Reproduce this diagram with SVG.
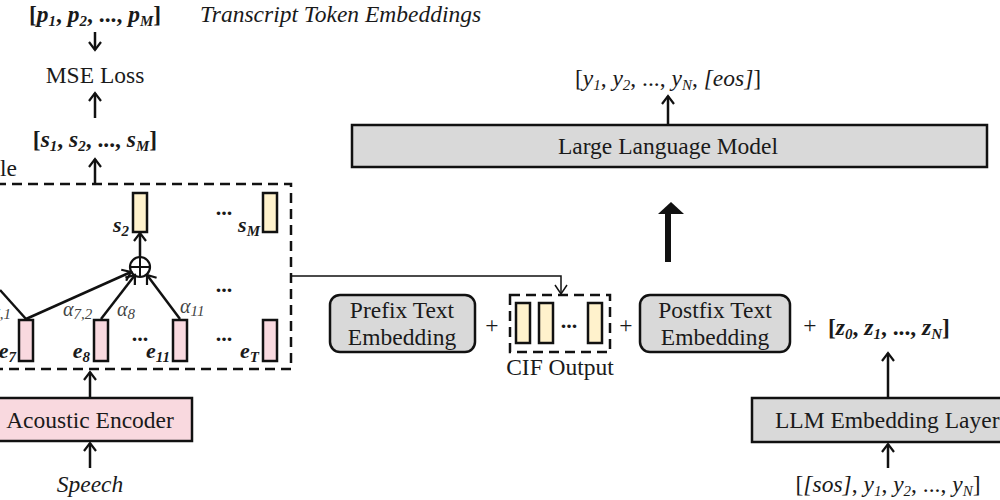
<svg xmlns="http://www.w3.org/2000/svg" width="1000" height="500" viewBox="0 0 1000 500">
<style>
.t{font-family:"Liberation Serif","Times New Roman",serif;font-size:23.5px;fill:#1a1a1a}
.m{font-family:"Liberation Serif","Times New Roman",serif;font-size:22px;fill:#1a1a1a}
.b{font-weight:bold}
.i{font-style:italic}
.s{font-size:15px}
.al{font-family:"Liberation Serif","Times New Roman",serif;font-size:20px;font-style:italic;fill:#444}
.box{stroke:#111;stroke-width:2.5}
.gray{fill:#d9d9d9}
.pink{fill:#f9d9df}
.yel{fill:#fff2cc}
.bar{stroke:#111;stroke-width:2.5}
.dash{fill:none;stroke:#111;stroke-width:2.5;stroke-dasharray:10 6}
.ln{fill:none;stroke:#111;stroke-width:2.5}
.thin{fill:none;stroke:#111;stroke-width:1.5}
</style>
<defs>
<marker id="arr" markerUnits="userSpaceOnUse" markerWidth="16" markerHeight="16" viewBox="0 0 16 16" refX="14" refY="8" orient="auto">
<path d="M6,2 L14,8 L6,14" fill="none" stroke="#111" stroke-width="2.2"/>
</marker>
<marker id="arrs" markerUnits="userSpaceOnUse" markerWidth="16" markerHeight="16" viewBox="0 0 16 16" refX="14" refY="8" orient="auto">
<path d="M5,2 L14,8 L5,14" fill="none" stroke="#111" stroke-width="1.5"/>
</marker>
</defs>

<!-- top-left labels -->
<g id="transcript-embeddings">
<text class="t b" x="95" y="22" text-anchor="middle">[<tspan class="i">p</tspan><tspan class="s i" dy="4">1</tspan><tspan dy="-4">, </tspan><tspan class="i">p</tspan><tspan class="s i" dy="4">2</tspan><tspan dy="-4">, ..., </tspan><tspan class="i">p</tspan><tspan class="s i" dy="4">M</tspan><tspan dy="-4">]</tspan></text>
<text class="t i" x="200" y="22">Transcript Token Embeddings</text>
</g>
<g id="mse-loss">
<text class="t" x="95" y="83" text-anchor="middle">MSE Loss</text>
</g>
<g id="s-seq">
<text class="t b" x="95" y="147" text-anchor="middle">[<tspan class="i">s</tspan><tspan class="s i" dy="4">1</tspan><tspan dy="-4">, </tspan><tspan class="i">s</tspan><tspan class="s i" dy="4">2</tspan><tspan dy="-4">, ..., </tspan><tspan class="i">s</tspan><tspan class="s i" dy="4">M</tspan><tspan dy="-4">]</tspan></text>
</g>

<!-- CIF module -->
<g id="cif-module">
<text class="t" x="0" y="176">le</text>
<rect class="dash" x="-20" y="184" width="311" height="185"/>
<rect class="bar yel" x="133" y="193" width="14" height="39"/>
<rect class="bar yel" x="263" y="193" width="14" height="39"/>
<rect class="bar pink" x="19" y="320" width="14" height="41"/>
<rect class="bar pink" x="94" y="320" width="14" height="41"/>
<rect class="bar pink" x="173" y="320" width="14" height="41"/>
<rect class="bar pink" x="263" y="320" width="14" height="41"/>
<circle cx="140" cy="267" r="10" fill="#fff" stroke="#111" stroke-width="2.2"/>
<path d="M130,267 H150 M140,257 V277" stroke="#111" stroke-width="2"/>
<text class="m b i" x="129" y="232" text-anchor="end">s<tspan class="s" dy="4">2</tspan></text>
<text class="m b i" x="260" y="232" text-anchor="end">s<tspan class="s" dy="4">M</tspan></text>
<text class="m b i" x="16" y="358" text-anchor="end">e<tspan class="s" dy="4">7</tspan></text>
<text class="m b i" x="90" y="358" text-anchor="end">e<tspan class="s" dy="4">8</tspan></text>
<text class="m b i" x="170" y="358" text-anchor="end">e<tspan class="s" dy="4">11</tspan></text>
<text class="m b i" x="259" y="358" text-anchor="end">e<tspan class="s" dy="4">T</tspan></text>
<text class="al" x="11" y="316" text-anchor="end">α<tspan class="s" dy="3">7,1</tspan></text>
<text class="al" x="63" y="316">α<tspan class="s" dy="3">7,2</tspan></text>
<text class="al" x="117" y="316">α<tspan class="s" dy="3">8</tspan></text>
<text class="al" x="180" y="313">α<tspan class="s" dy="3">11</tspan></text>
<text class="m b" x="224" y="215" text-anchor="middle">...</text>
<text class="m b" x="224" y="292" text-anchor="middle">...</text>
<text class="m b" x="140" y="341" text-anchor="middle">...</text>
<text class="m b" x="224" y="341" text-anchor="middle">...</text>
</g>

<g id="acoustic-encoder">
<rect class="box pink" x="-5" y="398" width="197" height="43"/>
<text class="t" x="90" y="428" text-anchor="middle">Acoustic Encoder</text>
</g>
<g id="speech">
<text class="t i" x="90" y="492" text-anchor="middle">Speech</text>
</g>

<!-- right side -->
<g id="llm-output">
<text class="t" x="668" y="86" text-anchor="middle">[<tspan class="i">y</tspan><tspan class="s i" dy="4">1</tspan><tspan dy="-4">, </tspan><tspan class="i">y</tspan><tspan class="s i" dy="4">2</tspan><tspan dy="-4">, ..., </tspan><tspan class="i">y</tspan><tspan class="s i" dy="4">N</tspan><tspan dy="-4">, </tspan><tspan class="i">[eos]</tspan>]</text>
</g>
<g id="llm">
<rect class="box gray" x="352" y="125" width="635" height="42"/>
<text class="t" x="668" y="154" text-anchor="middle">Large Language Model</text>
</g>
<g id="prefix">
<rect class="box gray" x="330" y="295" width="145" height="57" rx="10"/>
<text class="t" x="402" y="318" text-anchor="middle">Prefix Text</text>
<text class="t" x="402" y="345" text-anchor="middle">Embedding</text>
</g>
<text class="t" x="492" y="333" text-anchor="middle">+</text>
<g id="cif-output">
<rect class="dash" x="510" y="295" width="100" height="57"/>
<rect class="bar yel" x="516" y="303" width="14" height="40"/>
<rect class="bar yel" x="539" y="303" width="14" height="40"/>
<rect class="bar yel" x="588" y="303" width="14" height="40"/>
<text class="m b" x="569" y="328" text-anchor="middle">...</text>
<text class="t" x="560" y="375" text-anchor="middle">CIF Output</text>
</g>
<text class="t" x="626" y="333" text-anchor="middle">+</text>
<g id="postfix">
<rect class="box gray" x="640" y="295" width="150" height="57" rx="10"/>
<text class="t" x="715" y="318" text-anchor="middle">Postfix Text</text>
<text class="t" x="715" y="345" text-anchor="middle">Embedding</text>
</g>
<text class="t" x="810" y="333" text-anchor="middle">+</text>
<g id="z-seq">
<text class="t b" x="828" y="335">[<tspan class="i">z</tspan><tspan class="s i" dy="4">0</tspan><tspan dy="-4">, </tspan><tspan class="i">z</tspan><tspan class="s i" dy="4">1</tspan><tspan dy="-4">, ..., </tspan><tspan class="i">z</tspan><tspan class="s i" dy="4">N</tspan><tspan dy="-4">]</tspan></text>
</g>
<g id="llm-embedding">
<rect class="box gray" x="752" y="398" width="260" height="44"/>
<text class="t" x="775" y="428">LLM Embedding Layer</text>
</g>
<g id="input-tokens">
<text class="t" x="888" y="492" text-anchor="middle">[<tspan class="i">[sos]</tspan>, <tspan class="i">y</tspan><tspan class="s i" dy="4">1</tspan><tspan dy="-4">, </tspan><tspan class="i">y</tspan><tspan class="s i" dy="4">2</tspan><tspan dy="-4">, ..., </tspan><tspan class="i">y</tspan><tspan class="s i" dy="4">N</tspan><tspan dy="-4">]</tspan></text>
</g>

<!-- connectors -->
<g id="connectors">
<line class="ln" x1="95" y1="32" x2="95" y2="50" marker-end="url(#arr)"/>
<line class="ln" x1="95" y1="118" x2="95" y2="93" marker-end="url(#arr)"/>
<line class="ln" x1="95" y1="184" x2="95" y2="159" marker-end="url(#arr)"/>
<line class="ln" x1="140" y1="257" x2="140" y2="233" marker-end="url(#arr)"/>
<line class="ln" x1="0" y1="290" x2="26" y2="319"/>
<line class="ln" x1="26" y1="319" x2="131" y2="272" marker-end="url(#arr)"/>
<line class="ln" x1="101" y1="319" x2="135" y2="275" marker-end="url(#arr)"/>
<line class="ln" x1="180" y1="319" x2="147" y2="275" marker-end="url(#arr)"/>
<line class="ln" x1="90" y1="398" x2="90" y2="372" marker-end="url(#arr)"/>
<line class="ln" x1="90" y1="468" x2="90" y2="443" marker-end="url(#arr)"/>
<path class="thin" d="M291,276 H561 V294" marker-end="url(#arrs)"/>
<line class="ln" x1="668" y1="125" x2="668" y2="96" marker-end="url(#arr)"/>
<path d="M668,262 V212" stroke="#111" stroke-width="6" fill="none"/>
<path d="M658,214 L671,202 L684,214 Z" fill="#111"/>
<line class="ln" x1="888" y1="398" x2="888" y2="353" marker-end="url(#arr)"/>
<line class="ln" x1="888" y1="468" x2="888" y2="444" marker-end="url(#arr)"/>
</g>
</svg>
